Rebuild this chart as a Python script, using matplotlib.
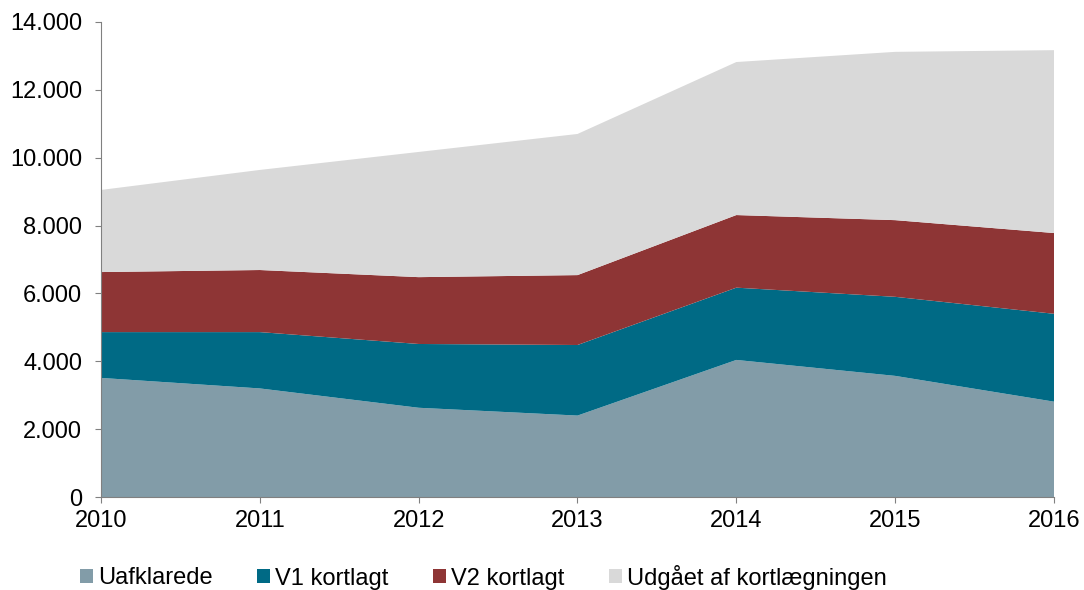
import matplotlib; matplotlib.use("Agg")
import matplotlib.pyplot as plt
from matplotlib.patches import Patch
from matplotlib.ticker import FuncFormatter

plt.rcParams["font.family"] = ["Liberation Sans", "DejaVu Sans"]

years = [2010, 2011, 2012, 2013, 2014, 2015, 2016]
labels = ["Uafklarede", "V1 kortlagt", "V2 kortlagt", "Udgået af kortlægningen"]
uafklarede = [3510, 3200, 2630, 2400, 4040, 3570, 2810]
v1 = [1350, 1660, 1880, 2080, 2130, 2330, 2590]
v2 = [1770, 1830, 1970, 2060, 2140, 2260, 2380]
udgaaet = [2420, 2950, 3690, 4160, 4510, 4960, 5390]
colors = ["#829ca8", "#006a85", "#8e3535", "#d9d9d9"]

fig = plt.figure(figsize=(10.84, 5.9), dpi=100)
ax = fig.add_axes([101/1084, 93/590, 953/1084, 475/590])

ax.stackplot(years, uafklarede, v1, v2, udgaaet, colors=colors, lw=0)

ax.set_xlim(2010, 2016)
ax.set_ylim(0, 14000)
ax.set_xticks(years)
ax.set_yticks(range(0, 14001, 2000))
ax.yaxis.set_major_formatter(FuncFormatter(lambda v, p: f"{int(v):,}".replace(",", ".")))
for s in ["top", "right"]:
    ax.spines[s].set_visible(False)
for s in ["left", "bottom"]:
    ax.spines[s].set_color("#808080")
ax.tick_params(colors="#808080", labelcolor="black", labelsize=17, length=4.5, direction="out")
ax.tick_params(axis="y", pad=9)
ax.tick_params(axis="x", pad=5)

handles = [Patch(facecolor=c, edgecolor="none") for c in colors]
fig.legend(handles, labels, loc="center left", bbox_to_anchor=(80/1084, 1 - 577/590),
           ncol=4, frameon=False, fontsize=17, handlelength=0.55, handleheight=0.55,
           handletextpad=0.2, columnspacing=1.9, borderaxespad=0, borderpad=0)

fig.savefig("out.png", dpi=100)
